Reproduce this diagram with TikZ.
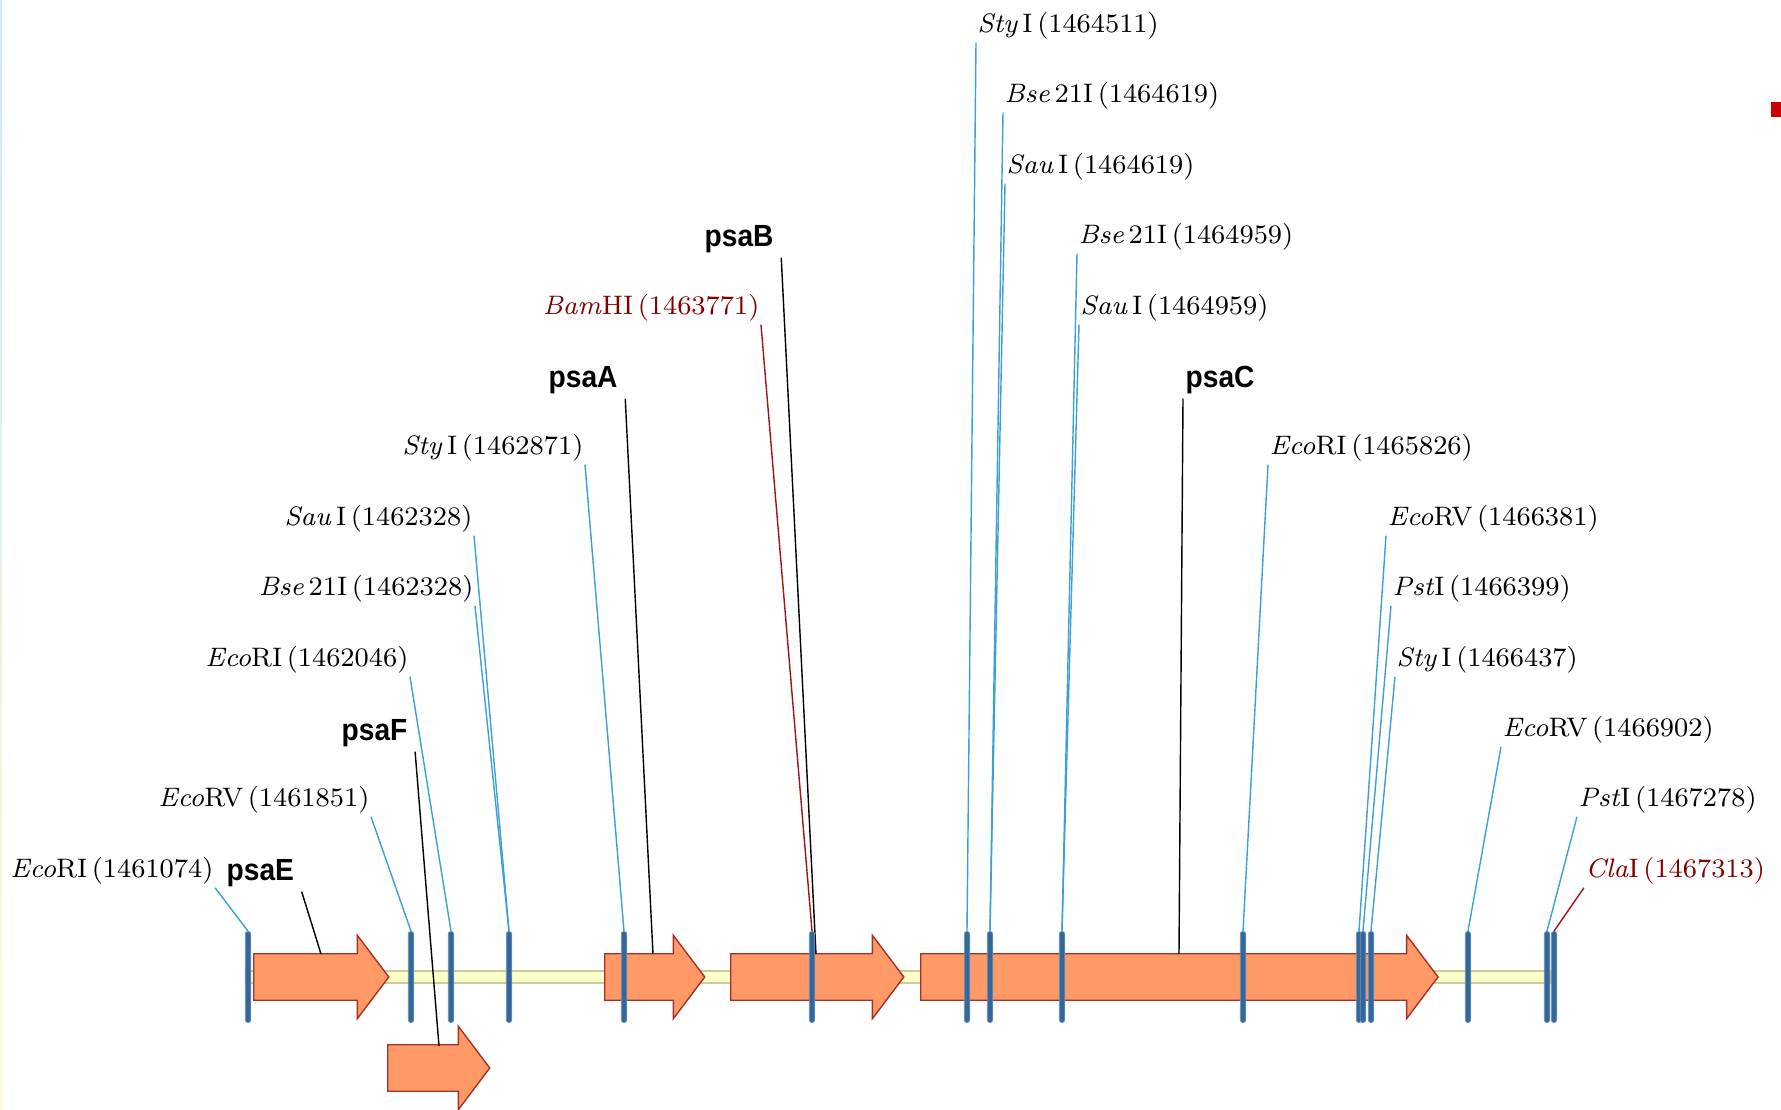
\documentclass[tikz,border=0pt]{standalone}
\usepackage{fontspec}
\newfontfamily\genefont{Liberation Sans}[FakeStretch=0.92]
\usepackage{tikz}
\usetikzlibrary{shapes.arrows}
\definecolor{sitecol}{RGB}{51,102,153}
\definecolor{leadblue}{RGB}{60,160,215}
\definecolor{leadred}{RGB}{165,20,20}
\definecolor{textred}{RGB}{128,0,0}
\definecolor{genefill}{RGB}{255,153,102}
\definecolor{geneline}{RGB}{165,50,40}
\definecolor{chromfill}{RGB}{255,255,204}
\definecolor{chromline}{RGB}{204,204,153}
\definecolor{edgeblue}{RGB}{204,230,255}
\definecolor{markred}{RGB}{204,0,0}
\newcommand{\enz}[2]{\textit{#1}#2}
\newcommand{\labelfont}{\fontsize{7.6}{9}\selectfont\spaceskip=1.3pt plus 0.5pt\relax}
\newcommand{\siteheight}{0.91cm}
\newcommand{\sitewidth}{0.055cm}
\newcommand{\shafthalf}{0.225cm}
\newcommand{\headextend}{0.185cm}
\tikzset{
    site/.style={rectangle, fill=sitecol, draw=sitecol!70!white, line width=0.2pt,
        rounded corners=0.025cm, minimum width=\sitewidth, minimum height=\siteheight, inner sep=0},
    gene/.style={single arrow, fill=genefill, draw=geneline, line width=0.4pt, anchor=tail,
        inner xsep=0, inner ysep=\shafthalf, single arrow head extend=\headextend,
        single arrow tip angle=106},
    enzlabel/.style={inner xsep=0.01cm, inner ysep=0, text height=0.2cm, text depth=0.09cm,
        font=\labelfont},
    left label/.style={enzlabel, anchor=base east},
    right label/.style={enzlabel, anchor=base west},
    genename/.style={anchor=base west, inner xsep=0.07cm, inner ysep=0, text depth=0.1cm,
        font=\genefont\bfseries\fontsize{8.7}{10}\selectfont},
    leader/.style={leadblue, line width=0.4pt},
    redleader/.style={leadred, line width=0.4pt},
    geneleader/.style={black, line width=0.4pt},
    chrom/.style={fill=chromfill, draw=chromline, line width=0.6pt}
}

\begin{document}
\begin{tikzpicture}[x=0.01cm, y=-0.01cm]
    \useasboundingbox (0,0) rectangle (1781,1110);
    \shade[top color=edgeblue, bottom color=chromfill] (0,0) rectangle (2,1110);
    \fill[markred] (1771,102) rectangle (1781,117);

    % backbone and genes
    \path[chrom] (246,971) rectangle (1551,983);
    \node[gene, minimum height=1.35cm] (psaE) at (253,977) {};
    \node[gene, minimum height=1.02cm] (psaF) at (387,1068) {};
    \node[gene, minimum height=1.00cm] (psaA) at (604,977) {};
    \node[gene, minimum height=1.73cm] (psaB) at (730,977) {};
    \node[gene, minimum height=5.17cm] (psaC) at (920,977) {};

    \coordinate (psaE-hit) at (321,954);
    \coordinate (psaF-hit) at (439,1046);
    \coordinate (psaA-hit) at (653,954);
    \coordinate (psaB-hit) at (816,954);
    \coordinate (psaC-hit) at (1179,954);

    \node[genename] (psaE-name) at (219,881) {psaE};
    \node[genename] (psaF-name) at (334,741) {psaF};
    \node[genename] (psaA-name) at (541,388) {psaA};
    \node[genename] (psaB-name) at (697,247) {psaB};
    \node[genename] (psaC-name) at (1178,388) {psaC};

    \draw[geneleader] (psaE-name.south east) -- (psaE-hit);
    \draw[geneleader] (psaF-name.south east) -- (psaF-hit);
    \draw[geneleader] (psaA-name.south east) -- (psaA-hit);
    \draw[geneleader] (psaB-name.south east) -- (psaB-hit);
    \draw[geneleader] ([xshift=0.05cm]psaC-name.south west) -- (psaC-hit);

    % restriction sites
    \node[site] (c1074) at (248,977) {};
    \node[site] (c1851) at (411,977) {};
    \node[site] (c2046) at (451,977) {};
    \node[site] (c2328) at (509,977) {};
    \node[site] (c2871) at (624,977) {};
    \node[site] (c3771) at (812,977) {};
    \node[site] (c4511) at (967,977) {};
    \node[site] (c4619) at (990,977) {};
    \node[site] (c4959) at (1062,977) {};
    \node[site] (c5826) at (1243,977) {};
    \node[site] (c6381) at (1359,977) {};
    \node[site] (c6399) at (1363,977) {};
    \node[site] (c6437) at (1371,977) {};
    \node[site] (c6902) at (1468,977) {};
    \node[site] (c7278) at (1547,977) {};
    \node[site] (c7313) at (1554,977) {};

    \node[left label] (l1074) at (215,878) {\enz{Eco}{RI} (1461074)};
    \node[left label] (l1851) at (371,807) {\enz{Eco}{RV} (1461851)};
    \node[left label] (l2046) at (410,667) {\enz{Eco}{RI} (1462046)};
    \node[left label] (l2328b) at (475,596) {\enz{Bse}{ 21I} (1462328)};
    \node[left label] (l2328s) at (474,526) {\enz{Sau}{ I} (1462328)};
    \node[left label] (l2871) at (585,455) {\enz{Sty}{ I} (1462871)};
    \node[left label, text=textred] (l3771) at (761,315) {\enz{Bam}{HI} (1463771)};
    \node[right label] (l4511) at (976,33) {\enz{Sty}{ I} (1464511)};
    \node[right label] (l4619b) at (1003,103) {\enz{Bse}{ 21I} (1464619)};
    \node[right label] (l4619s) at (1005,174) {\enz{Sau}{ I} (1464619)};
    \node[right label] (l4959b) at (1077,244) {\enz{Bse}{ 21I} (1464959)};
    \node[right label] (l4959s) at (1079,315) {\enz{Sau}{ I} (1464959)};
    \node[right label] (l5826) at (1268,455) {\enz{Eco}{RI} (1465826)};
    \node[right label] (l6381) at (1386,526) {\enz{Eco}{RV} (1466381)};
    \node[right label] (l6399) at (1391,596) {\enz{Pst}{I} (1466399)};
    \node[right label] (l6437) at (1395,667) {\enz{Sty}{ I} (1466437)};
    \node[right label] (l6902) at (1501,737) {\enz{Eco}{RV} (1466902)};
    \node[right label] (l7278) at (1577,807) {\enz{Pst}{I} (1467278)};
    \node[right label, text=textred] (l7313) at (1584,878) {\enz{Cla}{I} (1467313)};

    \draw[leader] (l1074.south east) -- (c1074.north);
    \draw[leader] (l1851.south east) -- (c1851.north);
    \draw[leader] (l2046.south east) -- (c2046.north);
    \draw[leader] (l2328b.south east) -- (c2328.north);
    \draw[leader] (l2328s.south east) -- (c2328.north);
    \draw[leader] (l2871.south east) -- (c2871.north);
    \draw[redleader] (l3771.south east) -- (c3771.north);
    \draw[leader] (l4511.south west) -- (c4511.north);
    \draw[leader] (l4619b.south west) -- (c4619.north);
    \draw[leader] (l4619s.south west) -- (c4619.north);
    \draw[leader] (l4959b.south west) -- (c4959.north);
    \draw[leader] (l4959s.south west) -- (c4959.north);
    \draw[leader] (l5826.south west) -- (c5826.north);
    \draw[leader] (l6381.south west) -- (c6381.north);
    \draw[leader] (l6399.south west) -- (c6399.north);
    \draw[leader] (l6437.south west) -- (c6437.north);
    \draw[leader] (l6902.south west) -- (c6902.north);
    \draw[leader] (l7278.south west) -- (c7278.north);
    \draw[redleader] (l7313.south west) -- (c7313.north);
\end{tikzpicture}
\end{document}
